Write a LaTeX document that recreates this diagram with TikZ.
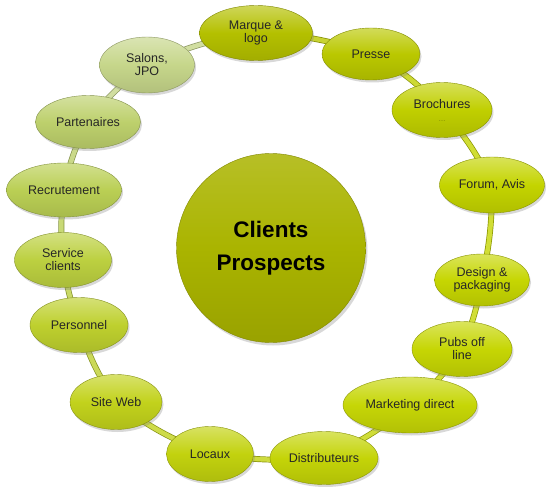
\documentclass[tikz,border=0pt]{standalone}
\usepackage{fontspec}
\setmainfont{Liberation Sans}
\usetikzlibrary{shapes,shadows,backgrounds}

\definecolor{cMarque}{HTML}{B4C000}
\definecolor{cPresse}{HTML}{BAC800}
\definecolor{cBroch}{HTML}{C0CF00}
\definecolor{cForum}{HTML}{C4D400}
\definecolor{cDesign}{HTML}{C6D602}
\definecolor{cPubs}{HTML}{C6D604}
\definecolor{cMkt}{HTML}{C6D606}
\definecolor{cDistr}{HTML}{C4D408}
\definecolor{cLocaux}{HTML}{C2D20E}
\definecolor{cSite}{HTML}{C2D21C}
\definecolor{cPerso}{HTML}{BED02E}
\definecolor{cServ}{HTML}{BCD040}
\definecolor{cRecru}{HTML}{BACF54}
\definecolor{cParten}{HTML}{BDD06C}
\definecolor{cSalons}{HTML}{C6D68A}
\definecolor{cHub}{HTML}{AAB400}

\begin{document}
\begin{tikzpicture}[x=1pt, y=1pt,
  bubble/.style={ellipse, draw=#1!70!black, thin, top color=#1!65!white, bottom color=#1!90!black,
    middle color=#1,
    drop shadow={opacity=0.3, shadow xshift=1.5pt, shadow yshift=-2.5pt},
    minimum height=55pt, inner sep=0pt, align=center, text=black!85,
    font=\fontsize{12.5}{13}\selectfont},
  hub/.style={circle, draw=cHub!75!black, thin, top color=cHub!85!white, bottom color=cHub!90!black,
    middle color=cHub,
    drop shadow={opacity=0.3, shadow xshift=2pt, shadow yshift=-3pt},
    minimum size=189pt, inner sep=0pt, align=center,
    font=\fontsize{22.5}{33}\selectfont\bfseries},
  link/.style={draw=#1!70!black, line width=0.7pt, double=#1!80!white, double distance=4.5pt}]
\useasboundingbox (0,0) rectangle (550,-487);

\node[hub] (hub) at (271,-248) {Clients\\Prospects};

\node[bubble=cMarque, minimum width=113pt] (marque) at (256,-33) {Marque \&\\logo};
\node[bubble=cPresse, minimum width=98pt, minimum height=52pt] (presse) at (371,-54) {Presse};
\node[bubble=cBroch, minimum width=100pt] (broch) at (442,-110) {Brochures\\\textcolor{cBroch!60!black}{\scriptsize\dots}};
\node[bubble=cForum, minimum width=105pt, minimum height=56pt] (forum) at (492,-185) {Forum, Avis};
\node[bubble=cDesign, minimum width=95pt, minimum height=52pt] (design) at (482,-280) {Design \&\\packaging};
\node[bubble=cPubs, minimum width=100pt] (pubs) at (462,-349) {Pubs off\\line};
\node[bubble=cMkt, minimum width=134pt, minimum height=56pt] (mkt) at (410,-405) {Marketing direct};
\node[bubble=cDistr, minimum width=108pt, minimum height=53pt] (distr) at (324,-458) {Distributeurs};
\node[bubble=cLocaux, minimum width=87pt] (locaux) at (210,-454) {Locaux};
\node[bubble=cSite, minimum width=92pt] (siteweb) at (116,-402) {Site Web};
\node[bubble=cPerso, minimum width=98pt] (perso) at (79,-325) {Personnel};
\node[bubble=cServ, minimum width=97pt] (service) at (63,-260) {Service\\clients};
\node[bubble=cRecru, minimum width=115pt, minimum height=54pt] (recru) at (64,-190) {Recrutement};
\node[bubble=cParten, minimum width=105pt, minimum height=53pt] (parten) at (88,-122) {Partenaires};
\node[bubble=cSalons, minimum width=95pt, minimum height=56pt] (salons) at (147,-65) {Salons,\\JPO};

% ring of links behind the bubbles
\begin{scope}[on background layer]
\fill[white] (0,0) rectangle (550,-487);
\path[link=cPresse] (marque.center) to[bend left=8] (presse.center);
\path[link=cBroch] (presse.center) to[bend left=10] (broch.center);
\path[link=cForum] (broch.center) to[bend left=8] (forum.center);
\path[link=cDesign] (forum.center) to[bend left=6] (design.center);
\path[link=cPubs] (design.center) to[bend left=6] (pubs.center);
\path[link=cMkt] (pubs.center) to[bend left=8] (mkt.center);
\path[link=cDistr] (mkt.center) to[bend left=8] (distr.center);
\path[link=cLocaux] (distr.center) to[bend left=6] (locaux.center);
\path[link=cSite] (locaux.center) to[bend left=8] (siteweb.center);
\path[link=cPerso] (siteweb.center) to[bend left=8] (perso.center);
\path[link=cServ] (perso.center) to[bend left=6] (service.center);
\path[link=cRecru] (service.center) to[bend left=6] (recru.center);
\path[link=cParten] (recru.center) to[bend left=8] (parten.center);
\path[link=cSalons] (parten.center) to[bend left=8] (salons.center);
\path[link=cSalons] (salons.center) to[bend left=8] (marque.center);
\end{scope}
\end{tikzpicture}
\end{document}
